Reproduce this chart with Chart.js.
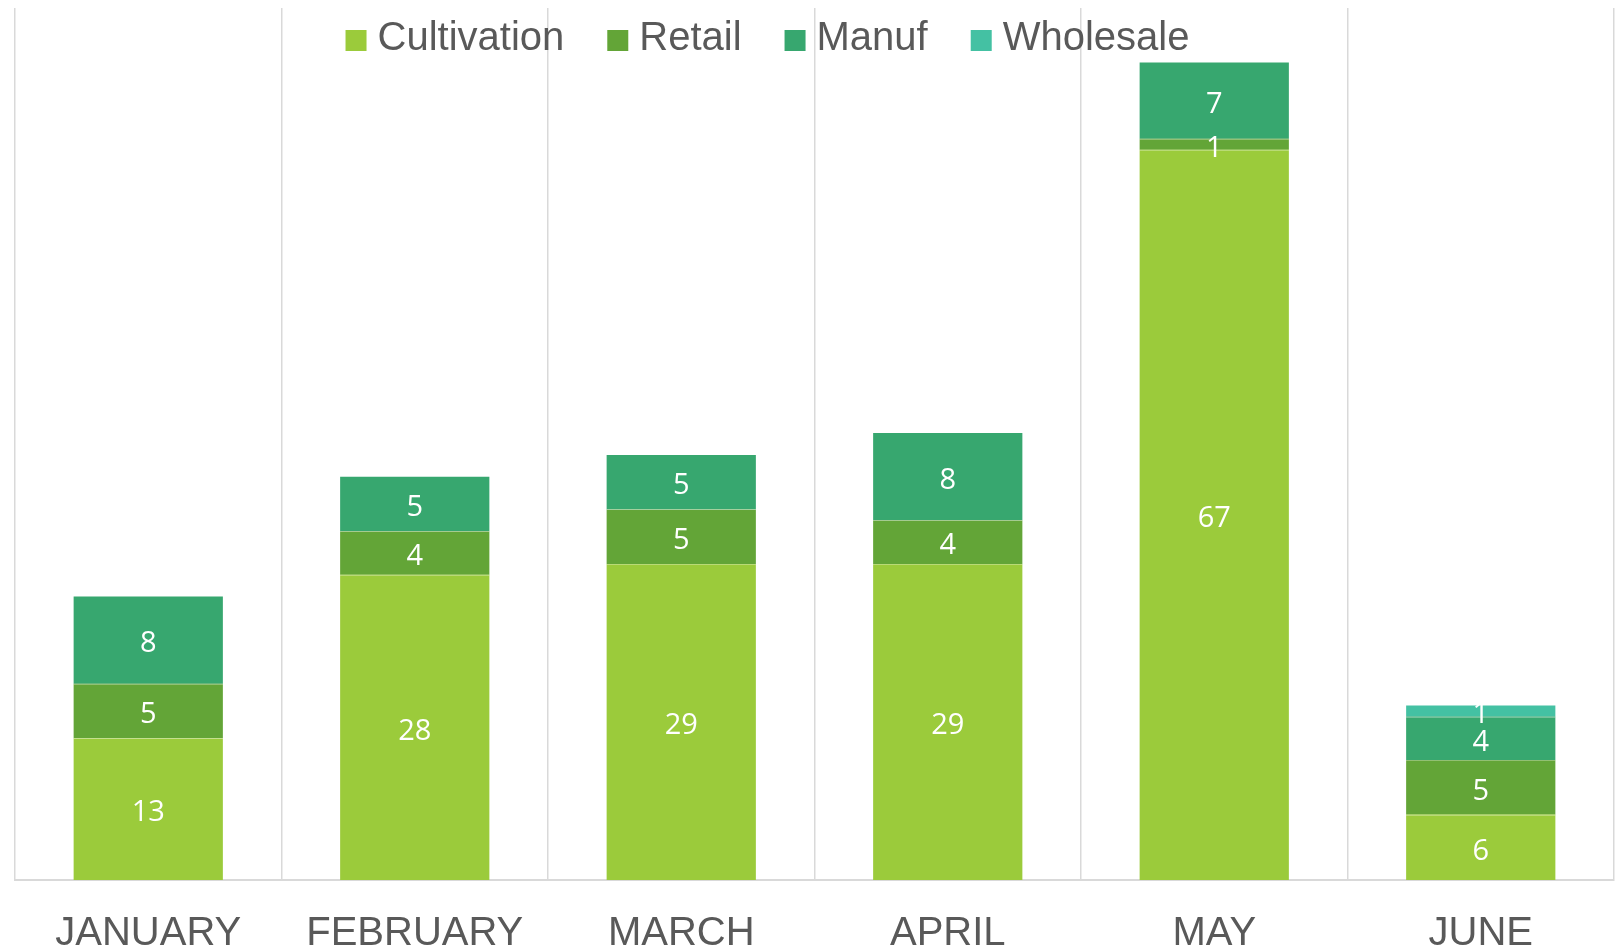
<!DOCTYPE html>
<html>
<head>
<meta charset="utf-8">
<script src="https://cdn.jsdelivr.net/npm/chart.js@4/dist/chart.umd.min.js"></script>
<style>
  html, body { margin: 0; padding: 0; background: #fff; }
  #wrap { width: 1622px; height: 952px; position: relative; }
</style>
</head>
<body>
<div id="wrap"><canvas id="myChart"></canvas></div>
<script>
const months = ["JANUARY", "FEBRUARY", "MARCH", "APRIL", "MAY", "JUNE"];
const cultivation = [13, 28, 29, 29, 67, 6];
const retail = [5, 4, 5, 4, 1, 5];
const manuf = [8, 5, 5, 8, 7, 4];
const wholesale = [0, 0, 0, 0, 0, 1];

const gray = "#595959";
const gridGray = "#d9d9d9";

// draws the value in the middle of each bar segment
const segmentLabels = {
  id: "segmentLabels",
  afterDatasetsDraw(chart) {
    const ctx = chart.ctx;
    ctx.save();
    ctx.fillStyle = "#ffffff";
    ctx.font = "29px 'Open Sans'";
    ctx.textAlign = "center";
    ctx.textBaseline = "middle";
    chart.data.datasets.forEach((ds, i) => {
      const meta = chart.getDatasetMeta(i);
      meta.data.forEach((bar, j) => {
        const v = ds.data[j];
        if (!v) return;
        const { x, y, base } = bar.getProps(["x", "y", "base"], true);
        ctx.fillText(String(v), x, (y + base) / 2 + 4);
      });
    });
    ctx.restore();
  },
};

// thin light seam between stacked segments
const seams = {
  id: "seams",
  afterDatasetsDraw(chart) {
    const ctx = chart.ctx;
    ctx.save();
    ctx.strokeStyle = "rgba(255,255,255,0.3)";
    ctx.lineWidth = 1;
    chart.data.datasets.forEach((ds, i) => {
      if (i === 0) return;
      chart.getDatasetMeta(i).data.forEach((bar, j) => {
        if (!ds.data[j]) return;
        const { x, base, width } = bar.getProps(["x", "base", "width"], true);
        ctx.beginPath();
        ctx.moveTo(x - width / 2, Math.round(base) + 0.5);
        ctx.lineTo(x + width / 2, Math.round(base) + 0.5);
        ctx.stroke();
      });
    });
    ctx.restore();
  },
};

// legend sits inside the plot, over the grid lines, in one row
const topLegend = {
  id: "topLegend",
  afterDraw(chart) {
    const ctx = chart.ctx;
    const area = chart.chartArea;
    const box = 21, gapBox = 11, gapItem = 43;
    ctx.save();
    ctx.font = "40px 'Liberation Sans'";
    ctx.textBaseline = "middle";
    ctx.textAlign = "left";
    const items = chart.data.datasets.map((ds) => ({
      text: ds.label,
      color: ds.backgroundColor,
      w: ctx.measureText(ds.label).width,
    }));
    let total = 0;
    items.forEach((it, i) => {
      total += box + gapBox + it.w + (i ? gapItem : 0);
    });
    let x = (area.left + area.right) / 2 - 47 - total / 2;
    const cy = area.top + 31;
    items.forEach((it) => {
      ctx.fillStyle = it.color;
      ctx.fillRect(x, cy - 9, box, box);
      x += box + gapBox;
      ctx.fillStyle = gray;
      ctx.fillText(it.text, x, cy);
      x += it.w + gapItem;
    });
    ctx.restore();
  },
};

const makeSet = (label, data, color) => ({
  label,
  data,
  backgroundColor: color,
  borderWidth: 0,
  barPercentage: 0.56,
  categoryPercentage: 1,
});

new Chart(document.getElementById("myChart"), {
  type: "bar",
  data: {
    labels: months,
    datasets: [
      makeSet("Cultivation", cultivation, "#9bcb3b"),
      makeSet("Retail", retail, "#63a537"),
      makeSet("Manuf", manuf, "#37a76f"),
      makeSet("Wholesale", wholesale, "#44c1a3"),
    ],
  },
  options: {
    responsive: true,
    maintainAspectRatio: false,
    animation: false,
    layout: { padding: { left: 15, right: 8, top: 8, bottom: -36 } },
    scales: {
      x: {
        stacked: true,
        offset: true,
        grid: {
          offset: true,
          color: gridGray,
          lineWidth: 1.5,
          drawTicks: false,
        },
        border: { color: gridGray, width: 2 },
        ticks: {
          color: gray,
          font: { family: "'Liberation Sans'", size: 40 },
          padding: 30,
          maxRotation: 0,
          autoSkip: false,
        },
      },
      y: {
        stacked: true,
        display: false,
        min: 0,
        max: 80,
      },
    },
    plugins: {
      tooltip: { enabled: false },
      legend: { display: false },
    },
  },
  plugins: [seams, segmentLabels, topLegend],
});
</script>
</body>
</html>
